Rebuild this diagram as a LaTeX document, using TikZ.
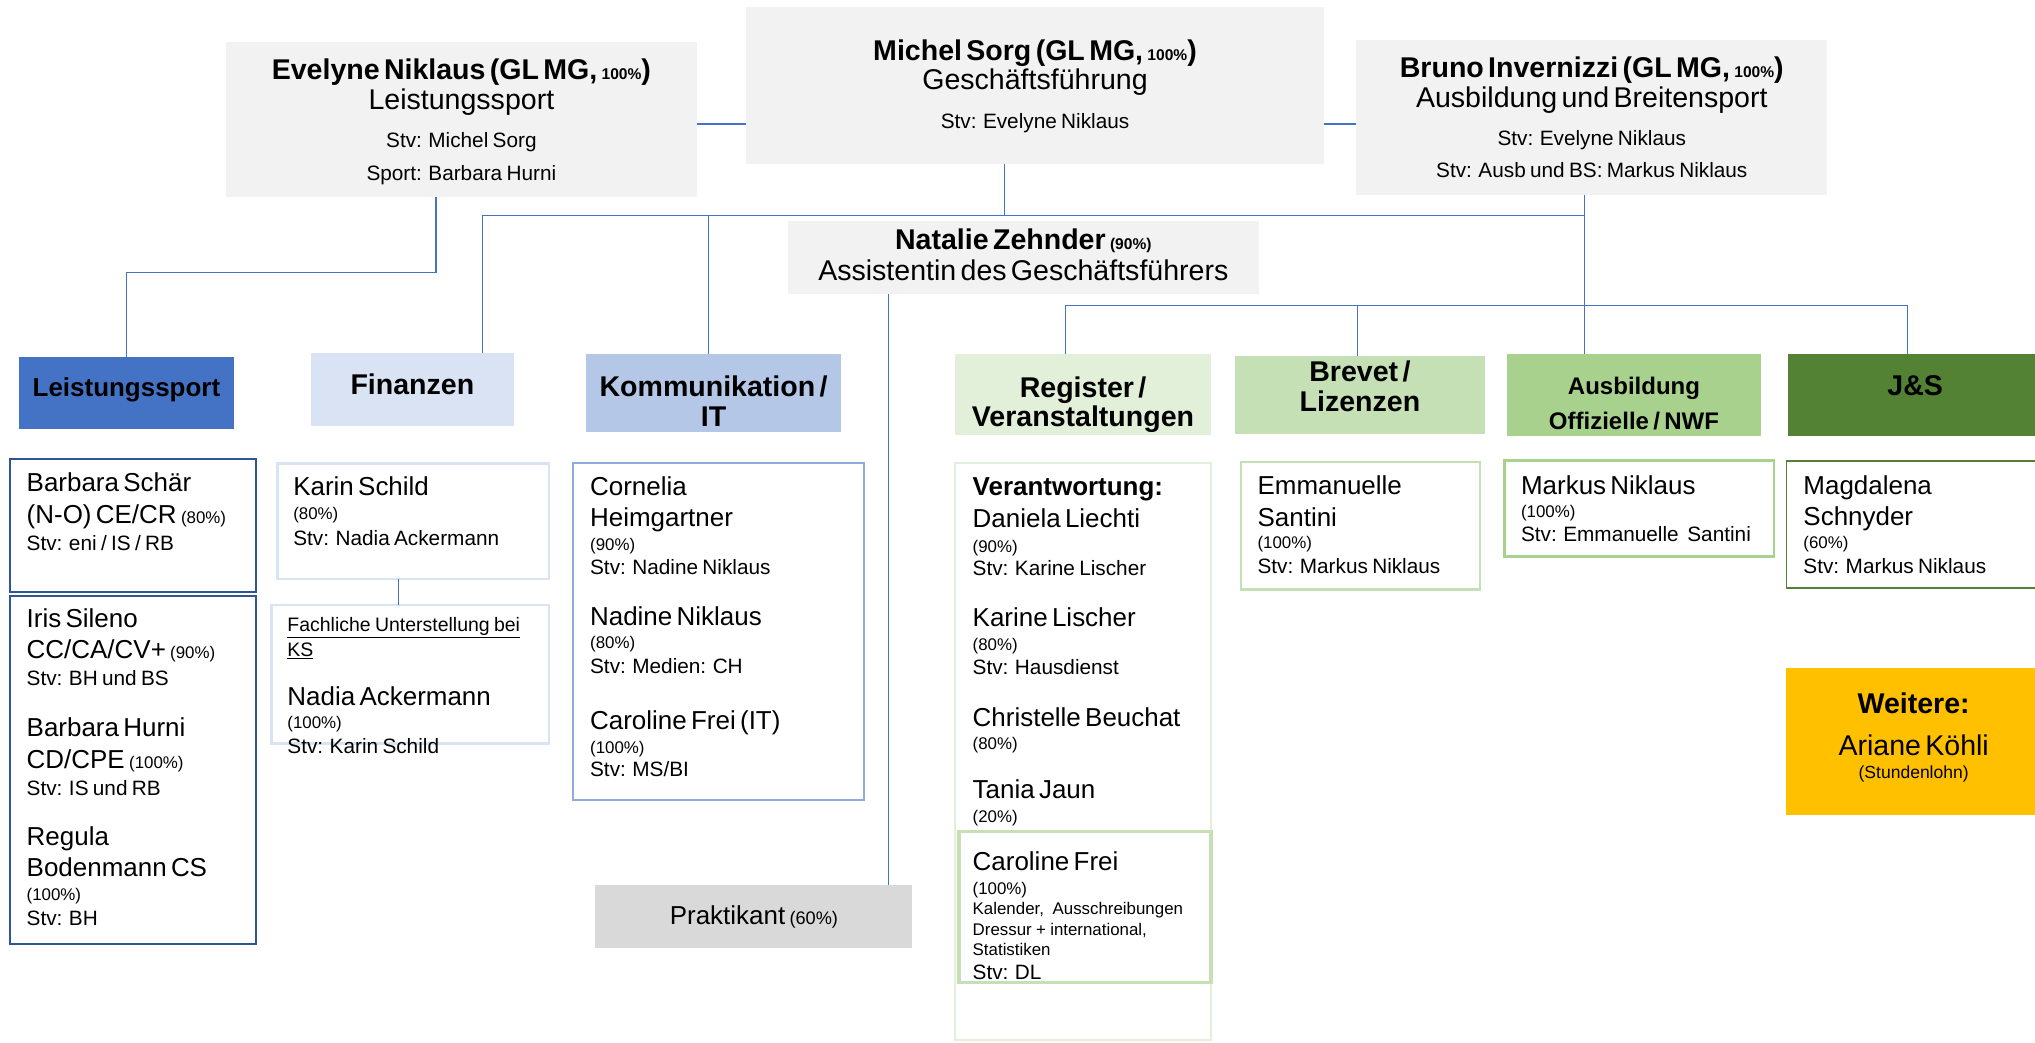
\documentclass[tikz,border=0pt]{standalone}
\usepackage{fontspec}
\setmainfont{Liberation Sans}
\lineskip=0pt
\lineskiplimit=-100pt
\definecolor{topgray}{RGB}{242,242,242}
\definecolor{linkblue}{RGB}{68,114,196}
\definecolor{lsblue}{RGB}{68,114,196}
\definecolor{lsdark}{RGB}{47,85,151}
\definecolor{finblue}{RGB}{218,227,243}
\definecolor{komblue}{RGB}{180,199,231}
\definecolor{komline}{RGB}{143,170,220}
\definecolor{reggreen}{RGB}{226,240,217}
\definecolor{brevgreen}{RGB}{197,224,180}
\definecolor{ausgreen}{RGB}{169,209,142}
\definecolor{jsgreen}{RGB}{84,130,53}
\definecolor{weiteregold}{RGB}{255,192,0}
\definecolor{praktgray}{RGB}{217,217,217}
\newcommand{\zl}[3]{{\fontsize{#1}{#2}\selectfont #3\par}}
\newcommand{\pct}[2][13]{{\fontsize{#1}{#1}\selectfont #2}}

\begin{document}
\begin{tikzpicture}[x=1pt,y=-1pt,
  link/.style={draw=linkblue,line width=1pt},
  boxnode/.style={anchor=north west,inner sep=0pt,outer sep=0pt},
  topbox/.style={boxnode,fill=topgray},
  member/.style={boxnode,draw=#1,line width=1.5pt},
  ltxt/.style={inner sep=0pt,outer sep=0pt,text width=#1,align=left,anchor=base west},
  ctxt/.style={inner sep=0pt,outer sep=0pt,text width=#1,align=center,anchor=base}]
\useasboundingbox (0,0) rectangle (1568,803);
\coordinate (lvl) at (0,95.6);
\coordinate (busA) at (0,166);
\coordinate (busB) at (0,235.5);
\coordinate (busC) at (0,210);

\node[topbox,minimum width=363pt,minimum height=119.4pt] (evel) at (174,32.6) {};
\node[ctxt=360pt] (evelTxt) at (355.5,61) {\zl{22}{23}{\textbf{Evelyne Niklaus (GL MG, \pct[12]{100\%})}}\zl{22}{23}{Leistungssport}\zl{16}{29.5}{Stv: Michel Sorg}\zl{16}{25.2}{Sport: Barbara Hurni}};
\node[topbox,minimum width=445pt,minimum height=120.6pt] (michel) at (575,5.4) {};
\node[ctxt=440pt] (michelTxt) at (797.5,46.8) {\zl{22}{23}{\textbf{Michel Sorg (GL MG, \pct[12]{100\%})}}\zl{22}{22}{Geschäftsführung}\zl{16}{30.1}{Stv: Evelyne Niklaus}};
\node[topbox,minimum width=363pt,minimum height=119pt] (bruno) at (1045,31) {};
\node[ctxt=360pt] (brunoTxt) at (1226.5,60) {\zl{22}{23}{\textbf{Bruno Invernizzi (GL MG, \pct[12]{100\%})}}\zl{22}{22.7}{Ausbildung und Breitensport}\zl{16}{29.3}{Stv: Evelyne Niklaus}\zl{16}{24.6}{Stv: Ausb und BS: Markus Niklaus}};
\node[topbox,minimum width=363pt,minimum height=56.5pt] (natalie) at (607,170) {};
\node[ctxt=360pt] (natalieTxt) at (788.5,192.6) {\zl{22}{23}{\textbf{Natalie Zehnder \pct[12]{(90\%)}}}\zl{22}{23.7}{Assistentin des Geschäftsführers}};

\node[boxnode,fill=lsblue,minimum width=165.2pt,minimum height=55.6pt] (lsHead) at (14.8,275) {};
\node[ctxt=165pt] (lsHeadTxt) at (97.4,305.7) {\zl{20}{20}{\textbf{Leistungssport}}};
\node[boxnode,fill=finblue,minimum width=156.5pt,minimum height=56pt] (finHead) at (239.5,272) {};
\node[ctxt=156pt] (finHeadTxt) at (317.75,303.6) {\zl{22}{22}{\textbf{Finanzen}}};
\node[boxnode,fill=komblue,minimum width=196.4pt,minimum height=60pt] (komHead) at (451.6,273) {};
\node[ctxt=196pt] (komHeadTxt) at (549.8,305.7) {\zl{22}{22}{\textbf{Kommunikation /}}\zl{22}{23}{\textbf{IT}}};
\node[boxnode,fill=reggreen,minimum width=197pt,minimum height=62pt] (regHead) at (736,273) {};
\node[ctxt=197pt] (regHeadTxt) at (834.5,306) {\zl{22}{22}{\textbf{Register /}}\zl{22}{23}{\textbf{Veranstaltungen}}};
\node[boxnode,fill=brevgreen,minimum width=192.3pt,minimum height=60.5pt] (brevHead) at (951.7,274) {};
\node[ctxt=192pt] (brevHeadTxt) at (1047.85,294) {\zl{22}{22}{\textbf{Brevet /}}\zl{22}{23}{\textbf{Lizenzen}}};
\node[boxnode,fill=ausgreen,minimum width=196pt,minimum height=62.7pt] (ausHead) at (1161,273) {};
\node[ctxt=196pt] (ausHeadTxt) at (1259,303.6) {\zl{18.5}{18.5}{\textbf{Ausbildung}}\zl{18.5}{27}{\textbf{Offizielle / NWF}}};
\node[boxnode,fill=jsgreen,minimum width=195pt,minimum height=62.7pt] (jsHead) at (1378,273) {};
\node[ctxt=190pt] (jsHeadTxt) at (1475.7,305) {\zl{22}{22}{\textbf{J\&S}}};

\draw[link] (evel.east |- lvl) -- (michel.west |- lvl);
\draw[link] (michel.east |- lvl) -- (bruno.west |- lvl);
\draw[link] ([xshift=-19.5pt]evel.south) |- (lsHead.north |- busC) -- (lsHead.north);
\draw[link] ([xshift=-23.5pt]michel.south) -- ([xshift=-23.5pt]michel.south |- busA);
\draw[link] ([xshift=54.25pt]finHead.north) |- ([xshift=-5.5pt]bruno.south |- busA);
\draw[link] ([xshift=-3.8pt]komHead.north) -- ([xshift=-3.8pt]komHead.north |- busA);
\draw[link] ([xshift=-5.5pt]bruno.south) -- ([xshift=-5.5pt]bruno.south |- ausHead.north);
\draw[link] ([xshift=-104pt]natalie.south) -- ([xshift=-104pt]natalie.south |- 0,682);
\draw[link] ([xshift=-13.5pt]regHead.north) |- ([xshift=-5.5pt]jsHead.north |- busB) -- ([xshift=-5.5pt]jsHead.north);
\draw[link] ([xshift=-1.85pt]brevHead.north) -- ([xshift=-1.85pt]brevHead.north |- busB);

\node[member=lsdark,minimum width=189.6pt,minimum height=102pt] (lsA) at (7.4,354) {};
\node[ltxt=180pt] (lsAtxt) at (20.6,379) {\zl{20}{24}{Barbara Schär}\zl{20}{24}{(N-O) CE/CR \pct{(80\%)}}\zl{16}{21}{Stv: eni / IS / RB}};
\node[member=lsdark,minimum width=189.6pt,minimum height=268pt] (lsB) at (7.4,459) {};
\node[ltxt=180pt] (lsBtxt) at (20.6,483.7) {\zl{20}{24}{Iris Sileno}\zl{20}{23.3}{CC/CA/CV+ \pct{(90\%)}}\zl{16}{21}{Stv: BH und BS}\zl{20}{39.7}{Barbara Hurni}\zl{20}{24.3}{CD/CPE \pct{(100\%)}}\zl{16}{20.6}{Stv: IS und RB}\zl{20}{39.1}{Regula}\zl{20}{23.9}{Bodenmann CS}\zl{13}{17.9}{(100\%)}\zl{16}{19.3}{Stv: BH}};

\node[member=finblue,line width=2pt,minimum width=209.4pt,minimum height=89pt] (finA) at (213.6,357) {};
\node[ltxt=190pt] (finAtxt) at (226,382) {\zl{20}{24}{Karin Schild}\zl{13}{18.6}{(80\%)}\zl{16}{19.4}{Stv: Nadia Ackermann}};
\node[member=finblue,line width=2pt,minimum width=214pt,minimum height=107pt] (finB) at (209,466) {};
\node[ltxt=195pt] (finBtxt) at (221.5,486.8) {\zl{15}{18}{\underline{Fachliche Unterstellung bei}}\zl{15}{18.7}{\underline{KS}}\zl{20}{38.3}{Nadia Ackermann}\zl{13}{17.2}{(100\%)}\zl{16}{19.5}{Stv: Karin Schild}};
\draw[link] ([xshift=-11.3pt]finA.south) -- ([xshift=-11.3pt]finA.south |- finB.north);

\node[member=komline,minimum width=224.1pt,minimum height=259.5pt] (komA) at (441.7,357) {};
\node[ltxt=205pt] (komAtxt) at (454.7,382) {\zl{20}{24}{Cornelia}\zl{20}{23.8}{Heimgartner}\zl{13}{18}{(90\%)}\zl{16}{19.2}{Stv: Nadine Niklaus}\zl{20}{38.6}{Nadine Niklaus}\zl{13}{18.4}{(80\%)}\zl{16}{18.9}{Stv: Medien: CH}\zl{20}{43.1}{Caroline Frei (IT)}\zl{13}{18.5}{(100\%)}\zl{16}{18}{Stv: MS/BI}};

\node[member=reggreen,minimum width=197pt,minimum height=444pt] (regA) at (736,357) {};
\node[ltxt=180pt] (regAtxt) at (749.5,382) {\zl{20}{24}{\textbf{Verantwortung:}}\zl{20}{24.7}{Daniela Liechti}\zl{13}{18.7}{(90\%)}\zl{16}{18.1}{Stv: Karine Lischer}\zl{20}{39.5}{Karine Lischer}\zl{13}{18.3}{(80\%)}\zl{16}{18.5}{Stv: Hausdienst}\zl{20}{39.7}{Christelle Beuchat}\zl{13}{18.1}{(80\%)}\zl{20}{37.9}{Tania Jaun}\zl{13}{17.9}{(20\%)}};
\node[ltxt=180pt] (regBtxt) at (749.5,671) {\zl{20}{24}{Caroline Frei}\zl{13}{18.4}{(100\%)}\zl{13}{15.6}{Kalender,~ Ausschreibungen}\zl{13}{16}{Dressur + international,}\zl{13}{15.6}{Statistiken}\zl{16}{18.3}{Stv: DL}};
\node[member=brevgreen,line width=2.5pt,minimum width=194pt,minimum height=116.9pt] (regB) at (739,640.4) {};

\node[member=brevgreen,line width=2pt,minimum width=184.2pt,minimum height=98pt] (brevA) at (956.3,356) {};
\node[ltxt=170pt] (brevAtxt) at (969,380.8) {\zl{20}{24}{Emmanuelle}\zl{20}{24.5}{Santini}\zl{13}{17.7}{(100\%)}\zl{16}{18.8}{Stv: Markus Niklaus}};
\node[member=ausgreen,line width=2pt,minimum width=208pt,minimum height=74pt] (ausA) at (1159,355) {};
\node[ltxt=195pt] (ausAtxt) at (1172,381) {\zl{20}{24}{Markus Niklaus}\zl{13}{18}{(100\%)}\zl{16}{18.4}{Stv: Emmanuelle~ Santini}};
\node[member=jsgreen,minimum width=200pt,minimum height=98pt] (jsA) at (1376.5,355) {};
\node[ltxt=175pt] (jsAtxt) at (1389.6,381) {\zl{20}{24}{Magdalena}\zl{20}{23.6}{Schnyder}\zl{13}{18.4}{(60\%)}\zl{16}{18.8}{Stv: Markus Niklaus}};

\node[boxnode,fill=weiteregold,minimum width=200pt,minimum height=113.5pt] (weitere) at (1376.5,514.5) {};
\node[ctxt=190pt] (weitereTxt) at (1474.5,549.7) {\zl{22}{22}{\textbf{Weitere:}}\zl{22}{32.8}{Ariane Köhli}\zl{13.5}{17}{(Stundenlohn)}};

\node[boxnode,fill=praktgray,minimum width=244.3pt,minimum height=48.5pt] (prakt) at (458.7,682) {};
\node[ctxt=240pt] (praktTxt) at (580.9,712) {\zl{20}{20}{Praktikant \pct[14]{(60\%)}}};
\end{tikzpicture}
\end{document}
